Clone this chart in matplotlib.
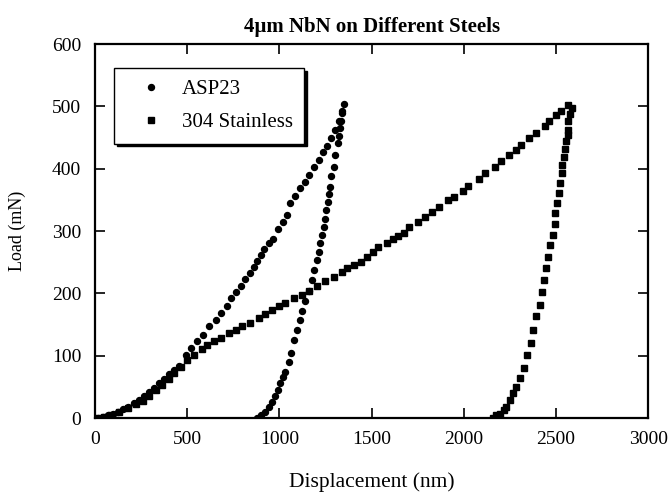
import matplotlib
matplotlib.use("Agg")
import matplotlib.pyplot as plt

plt.rcParams['font.family'] = ['Liberation Serif', 'DejaVu Serif']

# ASP23 (loading then unloading)
asp_x = [14, 41, 68, 95, 123, 150, 177, 213, 240, 267, 294, 321, 348, 375, 402, 429, 456,
         492, 519, 555, 587, 618, 654, 685, 714, 739, 766, 789, 816, 840, 861, 879, 901, 919,
         942, 964, 991, 1018, 1041, 1059, 1086, 1114, 1141, 1162, 1186, 1213, 1236, 1258,
         1279, 1303, 1321, 1342, 1351,
         1339, 1333, 1326, 1321, 1315, 1303, 1294, 1279, 1272, 1267, 1261, 1254, 1249, 1240,
         1231, 1222, 1213, 1204, 1189, 1177, 1159, 1141, 1123, 1110, 1095, 1077, 1065, 1050,
         1032, 1020, 1005, 991, 978, 960, 942, 924, 901, 879]
asp_y = [0.5, 2, 5, 7, 10, 14, 18, 24, 29, 35, 42, 48, 56, 62, 70, 77, 83,
         101, 112, 123, 133, 148, 158, 169, 180, 192, 202, 211, 223, 232, 243, 252, 261, 271,
         280, 288, 303, 314, 326, 345, 356, 369, 379, 390, 403, 414, 426, 437,
         450, 462, 476, 489, 503,
         492, 476, 465, 452, 441, 422, 403, 388, 371, 360, 347, 334, 320, 307,
         294, 280, 267, 254, 238, 222, 204, 187, 171, 157, 141, 125, 104, 90,
         74, 66, 56, 45, 35, 26, 18, 10, 5, 0.5]

# 304 Stainless (loading then unloading)
ss_x = [14, 50, 86, 132, 177, 222, 258, 294, 330, 366, 402, 429, 465, 501, 537, 582, 609,
        645, 681, 726, 762, 798, 843, 888, 924, 960, 996, 1032, 1077, 1123, 1159, 1204, 1249,
        1294, 1339, 1366, 1402, 1441, 1474, 1510, 1537, 1582, 1618, 1645, 1676, 1705, 1753,
        1789, 1825, 1867, 1915, 1946, 1993, 2023, 2083, 2114, 2168, 2204, 2245, 2281, 2312,
        2353, 2389, 2438, 2461, 2501, 2528, 2564, 2587,
        2573, 2564, 2564, 2564, 2555, 2546, 2541, 2533, 2533, 2523, 2515, 2505, 2496, 2492,
        2483, 2465, 2456, 2443, 2432, 2425, 2411, 2393, 2375, 2362, 2342, 2324, 2303, 2285,
        2267, 2249, 2227, 2216, 2198, 2177, 2159]
ss_y = [0.5, 2, 5, 10, 16, 22, 28, 35, 45, 53, 62, 72, 82, 93, 101, 110, 117,
        123, 129, 136, 142, 148, 153, 161, 167, 173, 179, 184, 192, 197, 204, 212, 220,
        227, 235, 240, 246, 251, 258, 267, 275, 281, 288, 292, 297, 306, 315,
        323, 331, 339, 349, 355, 365, 373, 383, 393, 402, 413, 422, 430, 438,
        449, 458, 469, 477, 486, 493, 502, 497,
        488, 476, 462, 454, 444, 431, 419, 406, 393, 377, 361, 345, 329, 312,
        294, 278, 259, 240, 222, 202, 181, 163, 141, 120, 101, 80, 64, 50,
        40, 29, 18, 13, 7, 5, 0.5]

xticks = [0, 500, 1000, 1500, 2000, 2500, 3000]
yticks = [0, 100, 200, 300, 400, 500, 600]

fig = plt.figure(figsize=(6.69, 4.98), dpi=100)
ax = fig.add_axes([0.142, 0.1606, 0.827, 0.751])

ax.plot(asp_x, asp_y, linestyle='none', marker='o', markersize=4.3, color='black',
        label='ASP23')
ax.plot(ss_x, ss_y, linestyle='none', marker='s', markersize=5.0, color='black',
        label='304 Stainless')

ax.set_xlim(0, 3000)
ax.set_ylim(0, 600)
ax.set_xticks(xticks)
ax.set_yticks(yticks)
ax.tick_params(direction='in', top=True, right=True, length=7, width=1.2,
               labelsize=14)
ax.tick_params(axis='x', pad=9)
ax.tick_params(axis='y', pad=10)
for s in ax.spines.values():
    s.set_linewidth(1.6)

ax.set_xlabel('Displacement (nm)', fontsize=15.5)
ax.xaxis.set_label_coords(0.5, -0.145)
ax.set_ylabel('Load (mN)', fontsize=13)
ax.yaxis.set_label_coords(-0.125, 0.5)
ax.set_title('4\u00b5m NbN on Different Steels', fontsize=15, fontweight='bold', pad=9)

leg = ax.legend(loc='upper left', bbox_to_anchor=(0.034, 0.936), fancybox=False,
                shadow={'color': 'black', 'alpha': 1.0}, edgecolor='black',
                fontsize=15, framealpha=1, borderpad=0.55, handletextpad=0.2,
                labelspacing=0.65, handlelength=2.5, borderaxespad=0)
leg.get_frame().set_linewidth(1.0)

fig.savefig('out.png', dpi=100)
